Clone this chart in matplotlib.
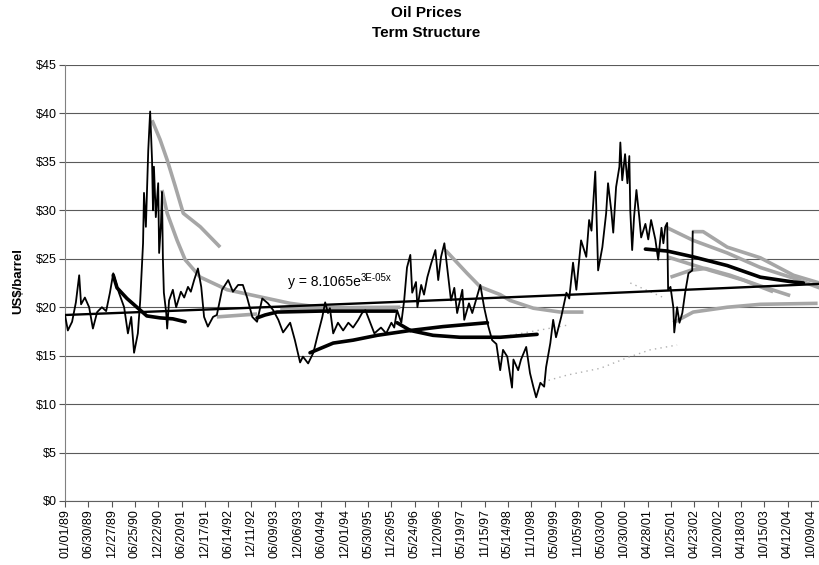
import matplotlib
matplotlib.use("Agg")
import matplotlib.pyplot as plt
import matplotlib.dates as mdates
import numpy as np
from datetime import datetime

plt.rcParams['font.family'] = 'Liberation Sans'

# spot price, dates as fractional years
spot_yr = [1989.00, 1989.06, 1989.15, 1989.23, 1989.30, 1989.34, 1989.42, 1989.51, 1989.59, 1989.68,
           1989.78, 1989.87, 1989.95, 1990.02, 1990.08, 1990.14, 1990.25, 1990.33, 1990.40, 1990.46,
           1990.54, 1990.59, 1990.65, 1990.67, 1990.71, 1990.76, 1990.80, 1990.84, 1990.86, 1990.88,
           1990.92, 1990.97, 1990.99, 1991.03, 1991.05, 1991.07, 1991.09, 1991.14, 1991.16, 1991.20,
           1991.28, 1991.35, 1991.45, 1991.52, 1991.60, 1991.66, 1991.73, 1991.81, 1991.88, 1991.94,
           1992.02, 1992.13, 1992.21, 1992.32, 1992.45, 1992.55, 1992.66, 1992.76, 1992.85, 1992.96,
           1993.06, 1993.17, 1993.29, 1993.40, 1993.51, 1993.61, 1993.76, 1993.86, 1993.97, 1994.03,
           1994.14, 1994.25, 1994.33, 1994.44, 1994.50, 1994.56, 1994.60, 1994.67, 1994.77, 1994.88,
           1994.99, 1995.09, 1995.20, 1995.28, 1995.35, 1995.43, 1995.54, 1995.68, 1995.79, 1995.90,
           1995.96, 1996.02, 1996.11, 1996.17, 1996.23, 1996.30, 1996.34, 1996.42, 1996.45, 1996.53,
           1996.59, 1996.66, 1996.74, 1996.83, 1996.89, 1996.95, 1997.02, 1997.08, 1997.16, 1997.23,
           1997.29, 1997.40, 1997.44, 1997.54, 1997.61, 1997.71, 1997.78, 1997.86, 1997.95, 1998.03,
           1998.12, 1998.20, 1998.26, 1998.35, 1998.45, 1998.48, 1998.58, 1998.64, 1998.75, 1998.83,
           1998.90, 1998.96, 1999.05, 1999.13, 1999.17, 1999.26, 1999.32, 1999.38, 1999.49, 1999.60,
           1999.66, 1999.74, 1999.81, 1999.87, 1999.91, 2000.02, 2000.08, 2000.13, 2000.21, 2000.27,
           2000.36, 2000.44, 2000.48, 2000.55, 2000.59, 2000.65, 2000.72, 2000.74, 2000.78, 2000.84,
           2000.89, 2000.93, 2000.95, 2000.99, 2001.03, 2001.08, 2001.14, 2001.18, 2001.27, 2001.33,
           2001.39, 2001.48, 2001.54, 2001.61, 2001.65, 2001.69, 2001.73, 2001.75, 2001.80, 2001.86,
           2001.88, 2001.94, 2001.99, 2002.05, 2002.11, 2002.18, 2002.26, 2002.27]
spot_usd = [19.2, 17.6, 18.5, 20.5, 23.3, 20.3, 21.0, 20.0, 17.8, 19.5,
            20.0, 19.6, 21.5, 23.5, 22.5, 21.5, 20.0, 17.3, 19.0, 15.3,
            17.3, 20.7, 26.6, 31.8, 28.3, 36.2, 40.2, 35.2, 30.0, 34.5,
            29.3, 32.8, 25.6, 28.7, 31.9, 24.9, 21.5, 19.4, 17.8, 20.7,
            21.8, 20.0, 21.6, 21.0, 22.1, 21.6, 22.8, 24.0, 22.1, 19.0,
            18.0, 19.0, 19.2, 21.8, 22.8, 21.6, 22.3, 22.3, 21.0, 19.0,
            18.5, 20.9, 20.4, 19.7, 18.7, 17.4, 18.4, 16.6, 14.3, 14.9,
            14.2, 15.3, 16.9, 19.0, 20.5, 19.4, 19.9, 17.3, 18.4, 17.6,
            18.4, 17.9, 18.7, 19.4, 19.7, 18.7, 17.3, 17.9, 17.3, 18.4,
            17.9, 19.7, 18.4, 20.7, 24.1, 25.4, 21.5, 22.6, 20.0, 22.3,
            21.3, 23.1, 24.5, 25.9, 22.8, 25.2, 26.6, 24.1, 20.7, 22.0,
            19.4, 21.8, 18.7, 20.4, 19.4, 21.1, 22.3, 20.0, 18.0, 16.6,
            16.2, 13.5, 15.6, 14.9, 11.7, 14.6, 13.5, 14.6, 15.9, 13.2,
            11.8, 10.7, 12.2, 11.8, 13.8, 16.3, 18.7, 16.9, 19.0, 21.5,
            20.9, 24.6, 21.8, 24.9, 26.9, 25.2, 29.0, 27.9, 34.0, 23.8,
            26.2, 29.7, 32.8, 29.9, 27.7, 32.4, 34.5, 37.0, 33.1, 35.8,
            32.8, 35.6, 30.0, 25.9, 29.3, 32.1, 29.3, 27.2, 28.6, 27.0,
            29.0, 27.0, 24.9, 28.2, 26.6, 28.3, 28.7, 21.8, 22.1, 20.0,
            17.4, 20.0, 18.4, 19.4, 21.5, 23.5, 23.8, 27.8]

# forward curves (gray)
g1_yr = [1990.84, 1991.01, 1991.16, 1991.33, 1991.50, 1991.86, 1992.28]
g1_usd = [39.3, 37.3, 35.2, 32.5, 29.7, 28.3, 26.2]
g2_yr = [1991.05, 1991.16, 1991.37, 1991.54, 1991.86, 1992.43, 1993.19, 1993.76, 1994.39]
g2_usd = [32.1, 29.7, 26.9, 24.9, 23.1, 21.8, 21.0, 20.4, 20.0]
g3_yr = [1992.21, 1993.06]
g3_usd = [19.0, 19.3]
g4_yr = [1993.55, 1996.09]
g4_usd = [19.9, 20.0]
g5_yr = [1997.04, 1997.50, 1997.78, 1998.20, 1998.41, 1998.90, 1999.47, 1999.96]
g5_usd = [25.9, 23.5, 22.1, 21.3, 20.7, 19.9, 19.5, 19.5]
g6_yr = [2001.73, 2002.28, 2003.00, 2003.70, 2004.40, 2004.95]
g6_usd = [28.2, 26.9, 25.6, 24.1, 23.0, 22.0]
g7_yr = [2002.26, 2002.49, 2003.00, 2003.70, 2004.40, 2004.95]
g7_usd = [27.8, 27.8, 26.2, 25.1, 23.3, 22.5]
g8_yr = [2001.73, 2002.64, 2003.34, 2003.97]
g8_usd = [25.2, 23.8, 22.8, 21.6]
g9_yr = [2001.80, 2002.22, 2002.54, 2003.06, 2003.70, 2004.33]
g9_usd = [23.1, 23.8, 24.0, 23.3, 22.2, 21.2]
g10_yr = [2001.86, 2002.28, 2003.00, 2003.70, 2004.91]
g10_usd = [18.4, 19.5, 20.0, 20.3, 20.4]

# forward curves (black)
b1_yr = [1990.02, 1990.10, 1990.31, 1990.59, 1990.73, 1991.01, 1991.28, 1991.54]
b1_usd = [23.3, 22.0, 20.9, 19.7, 19.1, 18.9, 18.8, 18.5]
b2_yr = [1993.06, 1993.23, 1993.48, 1994.39, 1995.98]
b2_usd = [18.9, 19.2, 19.5, 19.6, 19.6]
b3_yr = [1994.18, 1994.67, 1995.09, 1995.60, 1996.30]
b3_usd = [15.3, 16.3, 16.6, 17.1, 17.6]
b4_yr = [1996.30, 1996.99, 1997.93]
b4_usd = [17.6, 18.0, 18.4]
b5_yr = [1996.02, 1996.30, 1996.78, 1997.35, 1998.20, 1998.98]
b5_usd = [18.4, 17.6, 17.1, 16.9, 16.9, 17.2]
b6_yr = [2001.27, 2001.73, 2002.28, 2003.00, 2003.70, 2004.40, 2004.61]
b6_usd = [26.0, 25.8, 25.2, 24.3, 23.1, 22.6, 22.5]

# faint dotted curves
f1_yr = [1999.11, 1999.62, 2000.32, 2000.89, 2001.37, 2001.94]
f1_usd = [12.3, 13.0, 13.7, 14.8, 15.6, 16.1]
f2_yr = [1998.41, 1999.68]
f2_usd = [17.1, 18.2]
f3_yr = [2000.95, 2001.65]
f3_usd = [22.5, 21.0]

# exponential trend, x = excel date serial
TREND_A = 8.1065
TREND_B = 2.652e-05

START = mdates.date2num(datetime(1989, 1, 1))
EXCEL0 = mdates.date2num(datetime(1899, 12, 30))


def yr2num(yrs):
    return START + (np.asarray(yrs) - 1989.0) * 365.25


fig = plt.figure(figsize=(8.19, 5.65), dpi=100)
ax = fig.add_axes([65/819, 64/565, 754/819, 436/565])

gray = '#a6a6a6'
for xs, ys in [(g1_yr, g1_usd), (g2_yr, g2_usd), (g3_yr, g3_usd), (g4_yr, g4_usd),
               (g5_yr, g5_usd), (g6_yr, g6_usd), (g7_yr, g7_usd), (g8_yr, g8_usd),
               (g9_yr, g9_usd), (g10_yr, g10_usd)]:
    ax.plot(yr2num(xs), ys, color=gray, lw=2.6, solid_capstyle='butt', zorder=2)

for xs, ys in [(f1_yr, f1_usd), (f2_yr, f2_usd), (f3_yr, f3_usd)]:
    ax.plot(yr2num(xs), ys, color='#b0b0b0', lw=1.0, ls=(0, (1, 3)), zorder=2)

for xs, ys in [(b1_yr, b1_usd), (b2_yr, b2_usd), (b3_yr, b3_usd), (b4_yr, b4_usd),
               (b5_yr, b5_usd), (b6_yr, b6_usd)]:
    ax.plot(yr2num(xs), ys, color='black', lw=2.6, solid_capstyle='round', zorder=3)

xmin, xmax = START, START + 5822
tx = np.linspace(xmin, xmax, 200)
ax.plot(tx, TREND_A * np.exp(TREND_B * (tx - EXCEL0)), color='black', lw=1.7, zorder=4)

ax.plot(yr2num(spot_yr), spot_usd, color='black', lw=1.3, zorder=5)

# trend equation with a small raised exponent
eq = ax.text((288 - 65)/754, 1 - (282 - 65)/436, 'y = %.4fe' % TREND_A,
             transform=ax.transAxes, fontsize=10, va='center', ha='left', zorder=6)
ax.annotate('%.0Ex' % TREND_B, xy=(1.0, 0.82), xycoords=eq, fontsize=7,
            ha='left', va='center', zorder=6)

ax.set_xlim(xmin, xmax)
ax.set_ylim(0, 45)
ax.set_yticks(range(0, 50, 5))
ax.set_yticklabels(['$%d' % v for v in range(0, 50, 5)])
ticks = START + np.arange(33) * 180
ax.set_xticks(ticks)
ax.set_xticklabels([mdates.num2date(t).strftime('%m/%d/%y') for t in ticks], rotation=90)

ax.yaxis.grid(True, color='#5a5a5a', lw=0.8)
ax.set_axisbelow(True)
ax.spines['top'].set_visible(False)
ax.spines['right'].set_visible(False)
ax.spines['left'].set_color('#808080')
ax.spines['left'].set_linewidth(0.8)
ax.spines['bottom'].set_color('#606060')
ax.spines['bottom'].set_linewidth(0.8)
ax.tick_params(axis='both', direction='out', length=4, width=0.8, color='#555555',
               labelsize=9, pad=2)

fig.text(426/819, 1 - 13/565, 'Oil Prices', ha='center', va='center',
         fontsize=11, fontweight='bold')
fig.text(426/819, 1 - 33/565, 'Term Structure', ha='center', va='center',
         fontsize=11, fontweight='bold')
fig.text(18/819, 1 - 281/565, 'US$/barrel', rotation=90, ha='center', va='center',
         fontsize=9.5, fontweight='bold')

fig.savefig('out.png', dpi=100)
